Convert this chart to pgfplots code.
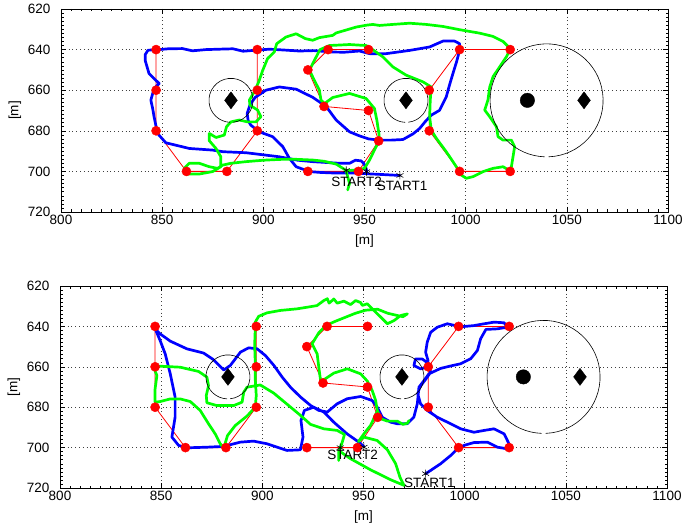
\documentclass[border=0pt]{standalone}
\usepackage{pgfplots}
\pgfplotsset{compat=1.18}
\usepackage{fontspec}
\setmainfont{Liberation Sans}
\definecolor{mblue}{RGB}{0,0,255}
\definecolor{mgreen}{RGB}{0,255,0}
\definecolor{mred}{RGB}{255,0,0}
\newcommand{\lbl}{\fontsize{13.5bp}{16bp}\selectfont}
\pgfplotsset{
  myaxis/.style={
    scale only axis, width=607bp,
    xmin=800, xmax=1100, ymin=620, ymax=720, y dir=reverse,
    xtick={800,850,...,1100}, ytick={620,640,...,720},
    grid=major,
    major grid style={black!75, line width=0.5bp, dash pattern=on 0.8bp off 3bp},
    tick align=inside, major tick length=5bp, minor tick length=2.5bp,
    minor x tick num=9, minor y tick num=9,
    axis line style={line width=0.6bp},
    every tick/.style={black, line width=0.5bp},
    ticklabel style={font=\lbl},
    yticklabel style={xshift=-7bp},
    label style={font=\lbl},
    xlabel style={yshift=-3bp},
    /pgf/number format/assume math mode=true,
    /pgf/number format/1000 sep={},
    xlabel={[m]}, ylabel={[m]},
    clip=false,
  },
  redline/.style={mred, line width=0.8bp},
  bl/.style={mblue, line width=2.7bp, line join=round, line cap=round},
  gr/.style={mgreen, line width=2.7bp, line join=round, line cap=round},
  wp/.style={only marks, mark=*, mark size=4.6bp, mred, mark options={fill=mred, draw=mred}},
  ast/.style={only marks, mark=asterisk, mark size=4bp, black, mark options={line width=0.6bp}},
}
\begin{document}
\begin{tikzpicture}
\useasboundingbox (0,0) rectangle (685bp,529bp);
% ================= TOP =================
\begin{axis}[myaxis, height=203bp, at={(61bp,317bp)}, anchor=south west]
\addplot[redline] coordinates {(847,640) (847,660) (847,680) (862,700) (882,700) (897,680) (897,660) (897,640)};
\addplot[redline] coordinates {(952,640) (932,640) (922,650) (930,668) (952,670) (957,685) (947,700) (922,700)};
\addplot[redline] coordinates {(1022,640) (997,640) (982,660) (982,680) (997,700) (1022,700)};
% blue
\addplot[bl] coordinates {
(967.5,702) (960,701.6) (952,701.2) (945,700.8) (935,700.8) (928,700.5) (922.8,700.1)
(916.2,697.7) (912.9,693.6) (909.6,687.8) (904.6,682.9) (898,680.5) (893.8,677.2)
(892.5,675) (892,671.5) (893.5,667) (896,663.5) (901.3,660) (907.9,658.4) (916.2,659.5)
(924.4,663.5) (931,668) (936,674.7) (942.6,680.5) (947.5,682.5) (952,684) (957.4,684.6)
(963,684.6) (969,684.3) (974,681.5) (977.2,678.9) (980,675.5) (983,672.3) (987.1,669.9)
(990.4,663.3) (992,657.5) (993.7,651.8) (995.5,646) (997,640.4) (997,637.1) (994.5,635.8)
(988.8,635.8) (982.2,638.7) (972.3,640.4) (960.7,642) (952.5,642) (947.5,640.7) (940,641.3)
(934.3,641.2) (925,640.5) (917.8,640.7) (910,640.2) (903,639.8) (896.4,640.3) (890,640.8)
(885,639.6) (878,639.8) (871.6,640) (865,640.6) (860,639.5) (853,639.6) (848.5,640)
(843,640.3) (841.6,642.5) (841.6,645.3) (843.5,651.8) (848.5,656.7) (846,659.2) (844.4,664.9)
(845.3,669) (846,673.1) (847.7,681.3) (851.8,685.9) (863.4,688.7) (874.9,689.5) (880,690.3)
(891.4,690.8) (896.4,691.4) (907.9,692.8) (917,694.5) (924.4,695.2) (937.6,696) (942.6,696)
(945.5,694.5) (948.3,694.8) (949.6,696) (950.8,698.5) (951.1,700.1)};
% green
\addplot[gr] coordinates {
(941.7,709.1) (942.6,705.9) (941.7,702.6) (940.9,699.5) (936,696.4) (930,695) (924.4,694.4)
(915,694) (907.9,694.1) (900,694.5) (891.4,695.2) (884,696) (879.9,696.9) (877.4,698.5)
(873.3,697.7) (868.3,696) (863.4,696) (860.9,698.5) (862.5,701.3) (868.3,701.3) (874.9,700.1)
(879,697.7) (879,692.8) (876.6,688.7) (873.3,684.9) (873.3,681.3) (876.6,683.3) (880.7,682.1)
(881.8,678) (884,675.6) (888.1,674.7) (892.2,675.6) (896.4,675.6) (898.8,673.1) (897.2,669.8)
(893.4,667.4) (893.1,664.9) (895.5,660.8) (897.7,655.9) (899.7,650.2) (902.1,644.4) (905.4,641.2)
(906.6,637.1) (911.2,633.8) (916.2,632.2) (920.8,634.6) (924.4,635.4) (927.7,634.1) (934.3,633)
(936,631.8) (945.9,628.9) (950.8,628) (954.1,627.6) (957.4,628.1) (964,627.6) (972.3,627)
(980.5,627.6) (988.8,628.6) (997,630.2) (1006.9,631.9) (1013.5,633.5) (1018.5,636) (1021,638.5)
(1021.8,640.4) (1020.1,643.6) (1016.8,648.5) (1013.5,653.4) (1011.9,658.4) (1011,664.9)
(1009.4,669.8) (1011.9,673.1) (1015.2,678) (1016,682.9) (1018.5,684.6) (1022.6,684.6)
(1024.2,687.8) (1023.4,692.8) (1022.6,697.7) (1022.6,700.1) (1018.5,697.7) (1013.5,698.5)
(1008.6,700.1) (1003.6,702.6) (1000.3,703.4) (997.8,701.8) (995.4,697.7) (990.4,690.3)
(985.5,683.7) (983,679.7) (982.2,673.1) (982.5,664.9) (983,658.4) (978.9,655.9) (970.6,652.6)
(964,648.5) (959.1,643.6) (953.3,639.5) (950.8,638) (942.6,637.5) (932.7,638) (928,640)
(924.4,646.9) (922.8,650.2) (925.2,655.1) (927.7,660) (928.5,664.9) (930.2,666.6) (934.3,663.6)
(942.6,661.6) (950.8,664.1) (954.9,669) (956.1,674.7) (957.1,681.3) (957.4,684.6) (954.9,689.5)
(952.5,694.4) (950,698.5) (945.9,699.3) (941.7,699.6)};
\addplot[wp] coordinates {(847,640) (847,660) (847,680) (862,700) (882,700) (897,680) (897,660) (897,640)
(952,640) (932,640) (922,650) (930,668) (952,670) (957,685) (947,700) (922,700)
(1022,640) (997,640) (982,660) (982,680) (997,700) (1022,700)};
\draw[black, line width=0.6bp] (axis cs:884,665) ++(-84:22bp) arc[start angle=-84, end angle=268, radius=22bp];
\draw[black, line width=0.6bp] (axis cs:970.5,665) ++(-84:22bp) arc[start angle=-84, end angle=268, radius=22bp];
\draw[black, line width=0.6bp] (axis cs:1040,665) ++(-88:56.5bp) arc[start angle=-88, end angle=268, radius=56.5bp];
\addplot[only marks, mark=diamond*, mark size=8.5bp, black] coordinates {(884,665) (970.5,665) (1058.5,665)};
\addplot[only marks, mark=*, mark size=7.2bp, black] coordinates {(1030.5,665)};
\addplot[ast] coordinates {(941,699.5) (951,700.1) (967.5,702)};
\node[anchor=west, inner sep=0, font=\lbl] at (axis cs:933.5,705.3) {START2};
\node[anchor=west, inner sep=0, font=\lbl] at (axis cs:956,707.3) {START1};
\end{axis}
% ================= BOTTOM =================
\begin{axis}[myaxis, height=202bp, at={(60bp,41bp)}, anchor=south west]
\addplot[redline] coordinates {(847,640) (847,660) (847,680) (862,700) (882,700) (897,680) (897,660) (897,640)};
\addplot[redline] coordinates {(952,640) (932,640) (922,650) (930,668) (952,670) (957,685) (947,700) (922,700)};
\addplot[redline] coordinates {(1022,640) (997,640) (982,660) (982,680) (997,700) (1022,700)};
% blue
\addplot[bl] coordinates {
(950.2,699.5) (947.7,697.3) (941.9,693.2) (935.3,687.4) (930.4,682.4) (925.4,680) (920.8,681.6)
(919.1,686.6) (920.1,694.8) (918.8,701.1) (912.2,701.4) (902.3,698.1) (895.7,696.8) (889.1,697.3)
(880.9,699.4) (872.6,699.8) (862.7,700.1) (858.6,698.9) (855.3,694.8) (856.9,684.9) (856.9,675)
(854.5,663.5) (852,653.6) (849.5,647) (847,641.2) (849.5,643.7) (854.5,647.3) (862.7,651.1)
(871,653.2) (875.9,656.5) (880.9,661.6) (884.2,659.3) (889.2,652.7) (893.3,650.6) (897.4,651.1)
(901.5,654.4) (905.7,659.3) (909.8,665.1) (913.9,670.1) (918.9,675) (923.8,679.1) (927.9,681.6)
(932.1,682.4) (937,678.3) (942,675.8) (948.6,674.7) (954.3,676.7) (956.8,680) (959.3,685)
(963.4,687.4) (966.7,688.2) (971.6,688.2) (974.9,684.9) (976.6,678.3) (977.4,670.1) (979.9,666.8)
(982.3,663.5) (988.1,660.8) (993,659.6) (998,658.5) (1003,656) (1006.3,651.9) (1007.9,646.1)
(1010.5,641.5) (1016.2,641.2) (1021.1,640.4) (1019.5,638.2) (1014.5,637.9) (1009.6,638.7)
(1004.6,639.6) (998,640.2) (991.4,638.7) (986.5,640.4) (983.2,642.9) (981.5,647.8) (980.7,652.8)
(981.9,656.9) (981.2,660.2) (978.2,661) (974.9,659.4) (975.7,656.1) (979,656.1) (982.3,658.5)
(983.2,662.7) (980.5,666.5) (977.8,670) (976.8,673.4) (978.2,678.3) (981.5,681.6) (986.5,685)
(993.1,688.2) (998,690.7) (1004.6,692.4) (1009.6,691.5) (1014.5,690.7) (1019.5,693.2)
(1021.9,698.1) (1021.1,700.6) (1016.2,699.8) (1011.2,697.3) (1004.6,697.5) (999.7,698.9)
(996.4,700.6) (993.1,703.9) (988.1,708) (983.2,711.3) (980.7,712.9)};
% green
\addplot[gr] coordinates {
(937.8,706.4) (937.8,702) (939.5,697.3) (940.6,693.5) (937,691.5) (930.4,690.7) (923.8,688.5)
(918.8,684) (912.2,678.5) (905.6,673) (899,669) (892.4,670.1) (890.8,672.6) (890,677.5)
(885.8,679.2) (877.6,679.2) (872.6,677.8) (872.3,674.2) (873.4,669.3) (872.6,665.1) (868.5,662.3)
(859.4,660.2) (849.5,659.7) (846.2,660.2) (847.9,664.3) (847,670.9) (847,677.5) (849.5,677.2)
(854.5,675.9) (859.4,675.9) (864.4,677.2) (869.3,681.6) (873.4,688.2) (876.7,693.2) (879.2,698.1)
(880.9,700.3) (882.8,694) (886.6,689.1) (892.4,684.4) (896.5,680) (897,674.2) (896.5,666)
(896.5,657.7) (896.2,649.5) (896.5,641.2) (896.5,637.9) (898.2,635) (902.3,633.3) (908.9,632.1)
(917.2,631.3) (922.2,630.5) (927,629.7) (930.4,627.2) (932.1,626.3) (933,628.5) (934.5,627.2)
(935.3,626.4) (937,628.5) (940.3,627.5) (943.6,629.2) (946.1,627.2) (948.6,628.2) (949.4,629.6)
(951.9,628.8) (955.2,632.1) (958.5,635.4) (961.8,638.7) (965.1,637.1) (968.4,634.6) (971.7,633.8)
(969.5,635.2) (966.7,634.6) (962,633.5) (957,631.5) (951,632) (946,633.5) (941,635.5)
(936,637.5) (931.5,639.5) (928,643) (924.6,648.6) (927.1,653.6) (927.9,660.2) (928.8,666.8)
(930.4,666.4) (935.4,663.1) (942,661) (948.6,663.5) (951.9,667.1) (954.3,671.7) (956,676.7)
(956.8,681.6) (958.5,685.7) (961.8,686.9) (966.7,686.9) (969.5,688.5) (971.7,687.9) (972.5,686.6)};
\addplot[gr] coordinates {
(956.8,682) (953.5,689) (950.2,693.2) (947.5,697) (950.2,694.8) (956.8,696.5) (961.8,701.1)
(965.9,708) (968,714.6) (970,718.7) (963.4,715.9) (953.5,711) (943.6,705.5) (938.5,702)};
\addplot[wp] coordinates {(847,640) (847,660) (847,680) (862,700) (882,700) (897,680) (897,660) (897,640)
(952,640) (932,640) (922,650) (930,668) (952,670) (957,685) (947,700) (922,700)
(1022,640) (997,640) (982,660) (982,680) (997,700) (1022,700)};
\draw[black, line width=0.6bp] (axis cs:883,665) ++(-84:22bp) arc[start angle=-84, end angle=268, radius=22bp];
\draw[black, line width=0.6bp] (axis cs:969,665) ++(-84:22bp) arc[start angle=-84, end angle=268, radius=22bp];
\draw[black, line width=0.6bp] (axis cs:1039,665) ++(-88:56.5bp) arc[start angle=-88, end angle=268, radius=56.5bp];
\addplot[only marks, mark=diamond*, mark size=8.5bp, black] coordinates {(883,665) (969,665) (1057,665)};
\addplot[only marks, mark=*, mark size=7.2bp, black] coordinates {(1029,665)};
\addplot[ast] coordinates {(938.5,700) (950.2,699.8) (980.7,712.9)};
\node[anchor=west, inner sep=0, font=\lbl] at (axis cs:932,703.8) {START2};
\node[anchor=west, inner sep=0, font=\lbl] at (axis cs:970,717.6) {START1};
\end{axis}
\end{tikzpicture}
\end{document}
